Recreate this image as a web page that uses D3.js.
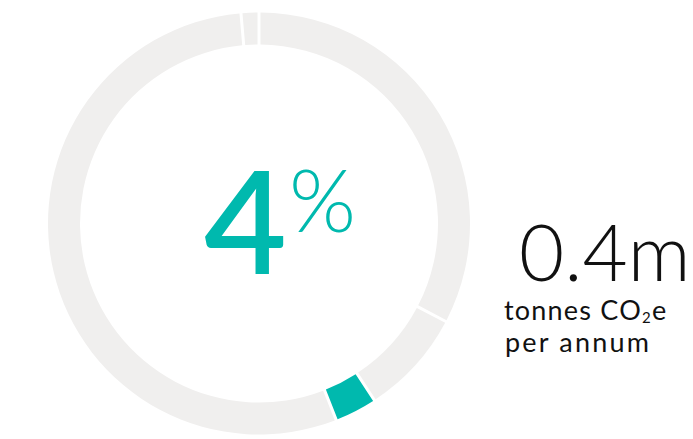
<!DOCTYPE html>
<html>
<head>
<meta charset="utf-8">
<script src="https://cdn.jsdelivr.net/npm/d3@7"></script>
<style>
html,body{margin:0;padding:0;background:#fff;}
svg{display:block;}
</style>
</head>
<body>
<svg id="chart" width="693" height="439"></svg>
<script>
// Data (share of ring, clockwise from 12 o'clock)
const segments = ["seg1", "seg2", "highlight", "seg4", "seg5"];
const shares = [32.8, 8.0, 3.1, 54.9, 1.2];
const highlighted = ["highlight"];
const bigValue = "4";
const bigUnit = "%";
const sideValue = "0.4m";
const sideLine1 = ["tonnes CO", "2", "e"];
const sideLine2 = "per annum";

const svg = d3.select("#chart");
const cx = 259, cy = 223.5, outerR = 211, innerR = 179;
const teal = "#00b9ae", gray = "#f0efee";

const data = segments.map((s, i) => ({name: s, value: shares[i]}));
const pie = d3.pie().sort(null).value(d => d.value).padAngle(3 / Math.sqrt(innerR*innerR + outerR*outerR));
const arc = d3.arc().innerRadius(innerR).outerRadius(outerR);

const g = svg.append("g").attr("transform", `translate(${cx},${cy})`);
g.selectAll("path").data(pie(data)).join("path")
  .attr("d", arc)
  .attr("fill", d => highlighted.includes(d.data.name) ? teal : gray);

const font = "Lato, 'Open Sans', sans-serif";
svg.append("text").attr("x", 204).attr("y", 274)
  .attr("font-family", font).attr("font-weight", 600).attr("font-size", 143)
  .attr("fill", teal).text(bigValue);
svg.append("text").attr("x", 289).attr("y", 232)
  .attr("font-family", font).attr("font-weight", 300).attr("font-size", 86)
  .attr("fill", teal).text(bigUnit);

svg.append("text").attr("x", 519).attr("y", 281)
  .attr("font-family", font).attr("font-weight", 300).attr("font-size", 78)
  .attr("fill", "#111").text(sideValue);

const t1 = svg.append("text").attr("x", 504).attr("y", 320)
  .attr("font-family", font).attr("font-weight", 400).attr("font-size", 27)
  .attr("letter-spacing", 1.2)
  .attr("fill", "#111");
t1.append("tspan").text(sideLine1[0]);
t1.append("tspan").attr("font-size", 15).attr("dy", 3).text(sideLine1[1]);
t1.append("tspan").attr("dy", -3).text(sideLine1[2]);

svg.append("text").attr("x", 505).attr("y", 352)
  .attr("font-family", font).attr("font-weight", 400).attr("font-size", 27)
  .attr("letter-spacing", 2.2)
  .attr("fill", "#111").text(sideLine2);
</script>
</body>
</html>
